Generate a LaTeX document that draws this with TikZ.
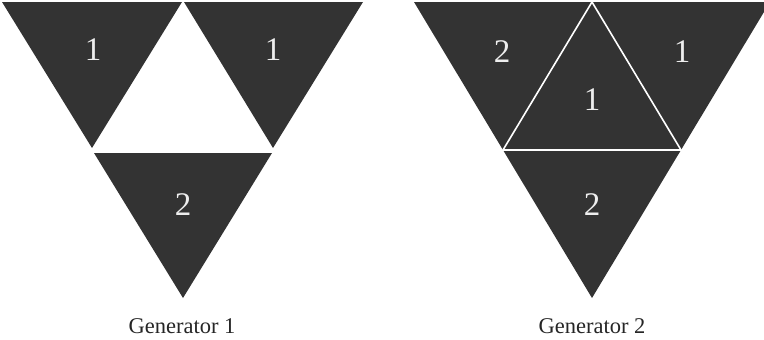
\documentclass[tikz,border=0pt]{standalone}
\usepackage{fontspec}
\setmainfont{Liberation Serif}
\definecolor{tricol}{HTML}{333333}
\definecolor{numc}{HTML}{EEEEEE}
\tikzset{
  trifill/.style={fill=tricol, draw=none},
  sepline/.style={draw=white, line width=1.6pt, line join=miter},
  num/.style={text=numc, inner sep=0pt, font=\fontsize{33}{33}\selectfont},
  captext/.style={text=black!85, inner sep=0pt, anchor=base, font=\fontsize{22.5}{22.5}\selectfont}
}
\begin{document}
\begin{tikzpicture}[x=1pt,y=-1pt]
\useasboundingbox (0,0) rectangle (764,340);
% Generator 1
\fill[trifill] (2,2) -- (182,2) -- (92,148) -- cycle;
\fill[trifill] (184,2) -- (363,2) -- (273,148) -- cycle;
\fill[trifill] (94,153) -- (272,153) -- (183,298) -- cycle;
\node[num] (g1a) at (93,50) {1};
\node[num] (g1b) at (273,50) {1};
\node[num] (g1c) at (183,205) {2};
\node[captext] (cap1) at (182,333) {Generator 1};
% Generator 2
\begin{scope}
\clip (0,0) rectangle (764,340);
\fill[trifill] (414,2) -- (770,2) -- (592,298) -- cycle;
\end{scope}
\draw[sepline] (592,2) -- (503,150) -- (681,150) -- cycle;
\node[num] (g2a) at (502,52) {2};
\node[num] (g2b) at (682,52) {1};
\node[num] (g2c) at (592,100) {1};
\node[num] (g2d) at (592,205) {2};
\node[captext] (cap2) at (592,333) {Generator 2};
\end{tikzpicture}
\end{document}
